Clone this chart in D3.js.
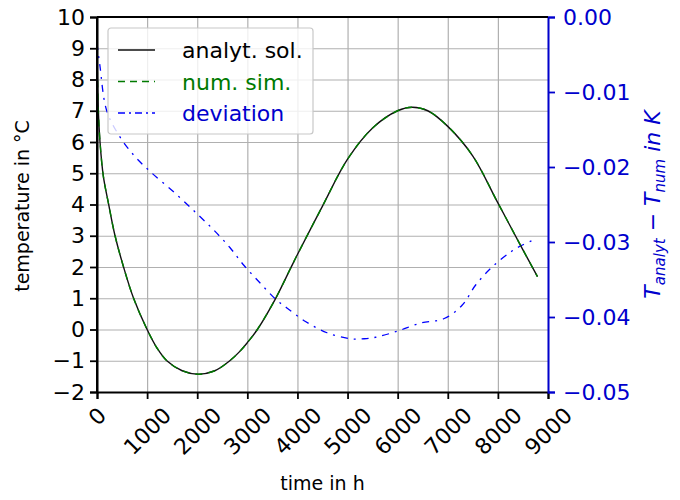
<!DOCTYPE html>
<html>
<head>
<meta charset="utf-8">
<script src="https://cdn.jsdelivr.net/npm/d3@7"></script>
<style>
  body { margin: 0; background: #fff; }
  text { font-family: "DejaVu Sans", sans-serif; }
</style>
</head>
<body>
<div id="chart"></div>
<script>
// temperature curves
const timeH = [0, 27, 60, 127, 227, 360, 530, 730, 1000, 1200, 1393, 1700, 2020, 2350, 2650, 2850, 3000, 3200, 3550, 3860, 4000, 4500, 5000, 5500, 6000, 6290, 6600, 7000, 7500, 8000, 8500, 8790];
const analytSol = [8.8, 7.0, 6.0, 4.9, 4.05, 3.0, 2.0, 1.0, 0.0, -0.6, -1.0, -1.32, -1.43, -1.32, -1.0, -0.7, -0.42, 0.0, 0.95, 1.95, 2.4, 3.95, 5.45, 6.45, 7.0, 7.11, 7.0, 6.5, 5.55, 4.05, 2.55, 1.69];
const numSim = [8.8, 7.0, 6.0, 4.9, 4.05, 3.0, 2.0, 1.0, 0.0, -0.6, -1.0, -1.32, -1.43, -1.32, -1.0, -0.7, -0.42, 0.0, 0.95, 1.95, 2.4, 3.95, 5.45, 6.45, 7.0, 7.11, 7.0, 6.5, 5.55, 4.05, 2.55, 1.69];

// deviation T_analyt - T_num (right axis)
const devTime = [0, 60, 190, 430, 730, 1060, 1560, 1990, 2330, 2660, 2930, 3260, 3560, 3790, 4160, 4590, 5060, 5330, 5560, 5990, 6460, 6930, 7290, 7560, 7890, 8260, 8490, 8690];
const deviation = [-0.0035, -0.0066, -0.0124, -0.0157, -0.0184, -0.0206, -0.0235, -0.0262, -0.0284, -0.0308, -0.0331, -0.0355, -0.0376, -0.0388, -0.0406, -0.0421, -0.0429, -0.0429, -0.0427, -0.0419, -0.0408, -0.0402, -0.0384, -0.0357, -0.0333, -0.0313, -0.0304, -0.0298];

// tick values
const xTicks = [0, 1000, 2000, 3000, 4000, 5000, 6000, 7000, 8000, 9000];
const yTicks = [-2, -1, 0, 1, 2, 3, 4, 5, 6, 7, 8, 9, 10];
const yRightTicks = [-0.05, -0.04, -0.03, -0.02, -0.01, 0];

const W = 680, H = 500;
const margin = {top: 17, right: 132, bottom: 108, left: 97},
    width = W - margin.left - margin.right,
    height = H - margin.top - margin.bottom;

const blue = "#0000cd";

const svg = d3.select("#chart")
  .append("svg")
    .attr("width", W)
    .attr("height", H)
  .append("g")
    .attr("transform", "translate(" + margin.left + "," + margin.top + ")");

const x = d3.scaleLinear().domain([0, 9000]).range([0, width]);
const y = d3.scaleLinear().domain([-2, 10]).range([height, 0]);
const yR = d3.scaleLinear().domain([-0.05, 0]).range([height, 0]);

// grid
svg.append("g")
  .attr("transform", "translate(0," + height + ")")
  .call(d3.axisBottom(x).tickValues(xTicks).tickSize(-height).tickFormat(""))
  .call(g => g.select(".domain").remove())
  .selectAll("line").attr("stroke", "#b0b0b0").attr("stroke-width", 1.2);
svg.append("g")
  .call(d3.axisLeft(y).tickValues(yTicks).tickSize(-width).tickFormat(""))
  .call(g => g.select(".domain").remove())
  .selectAll("line").attr("stroke", "#b0b0b0").attr("stroke-width", 1.2);

// lines
const tLine = d3.line().x((d, i) => x(timeH[i])).y(d => y(d)).curve(d3.curveCatmullRom);
const dLine = d3.line().x((d, i) => x(devTime[i])).y(d => yR(d)).curve(d3.curveCatmullRom);

svg.append("path").datum(deviation)
  .attr("d", dLine).attr("fill", "none")
  .attr("stroke", "#0000ff").attr("stroke-width", 1.3)
  .attr("stroke-dasharray", "7,6,2,6");

svg.append("path").datum(analytSol)
  .attr("d", tLine).attr("fill", "none")
  .attr("stroke", "#111").attr("stroke-width", 1.4);

svg.append("path").datum(numSim)
  .attr("d", tLine).attr("fill", "none")
  .attr("stroke", "#007a00").attr("stroke-width", 1.4)
  .attr("stroke-dasharray", "7,6");

// axes
const xAxis = svg.append("g")
  .attr("transform", "translate(0," + height + ")")
  .call(d3.axisBottom(x).tickValues(xTicks).tickSize(7).tickFormat(d3.format("d")));
xAxis.selectAll("text")
  .attr("font-size", 22)
  .attr("text-anchor", "middle")
  .attr("dominant-baseline", "central")
  .attr("dy", null)
  .attr("y", null)
  .each(function() {
    const w = this.getComputedTextLength();
    const c = 12 + (w + 21) * 0.7071 / 2;
    d3.select(this).attr("transform", "translate(0," + c + ") rotate(-45)");
  });

const yAxis = svg.append("g")
  .call(d3.axisLeft(y).tickValues(yTicks).tickSize(7).tickPadding(5).tickFormat(d3.format("d")));
yAxis.selectAll("text").attr("font-size", 22);

const yRAxis = svg.append("g")
  .attr("transform", "translate(" + width + ",0)")
  .call(d3.axisRight(yR).tickValues(yRightTicks).tickSize(7).tickPadding(8).tickFormat(d3.format(".2f")));
yRAxis.selectAll("text").attr("font-size", 22).attr("fill", blue);
yRAxis.selectAll("line").attr("stroke", blue);
yRAxis.select(".domain").attr("stroke", blue);

[xAxis, yAxis, yRAxis].forEach(a => {
  a.select(".domain").attr("stroke-width", 2);
  a.selectAll(".tick line").attr("stroke-width", 1.8);
});

// top and left spines
svg.append("line")
  .attr("x1", 0).attr("x2", width).attr("y1", 0).attr("y2", 0)
  .attr("stroke", "#000").attr("stroke-width", 2);
svg.append("line")
  .attr("x1", 0).attr("x2", 0).attr("y1", 0).attr("y2", height)
  .attr("stroke", "#000").attr("stroke-width", 2);

// axis labels
svg.append("text")
  .attr("x", width / 2).attr("y", 490 - margin.top)
  .attr("text-anchor", "middle").attr("font-size", 19)
  .text("time in h");

svg.append("text")
  .attr("transform", "translate(" + (29 - margin.left) + "," + (height / 2 + 1.5) + ") rotate(-90)")
  .attr("text-anchor", "middle").attr("font-size", 19)
  .text("temperature in °C");

const rl = svg.append("text")
  .attr("transform", "translate(" + (660 - margin.left) + "," + (height / 2) + ") rotate(-90)")
  .attr("text-anchor", "middle").attr("font-size", 22)
  .attr("fill", blue).attr("font-style", "italic");
rl.append("tspan").text("T");
rl.append("tspan").attr("dy", 5).attr("font-size", 15).text("analyt");
rl.append("tspan").attr("dy", -5).attr("font-style", "normal").text(" − ");
rl.append("tspan").text("T");
rl.append("tspan").attr("dy", 5).attr("font-size", 15).text("num");
rl.append("tspan").attr("dy", -5).text(" in K");

// legend
const legendItems = [
  {label: "analyt. sol.", color: "#111", text: "#000", dash: null},
  {label: "num. sim.", color: "#007a00", text: "#007a00", dash: "7,5"},
  {label: "deviation", color: "#0000ff", text: blue, dash: "7,4,2,4"}
];
const lg = svg.append("g").attr("transform", "translate(" + (108 - margin.left) + "," + (28 - margin.top) + ")");
lg.append("rect")
  .attr("width", 205).attr("height", 106).attr("rx", 3)
  .attr("fill", "#fff").attr("fill-opacity", 0.8)
  .attr("stroke", "#c8c8c8").attr("stroke-width", 1.2);
legendItems.forEach((d, i) => {
  const cy = 22 + i * 31.5;
  lg.append("line")
    .attr("x1", 10).attr("x2", 47).attr("y1", cy).attr("y2", cy)
    .attr("stroke", d.color).attr("stroke-width", 1.4)
    .attr("stroke-dasharray", d.dash);
  lg.append("text")
    .attr("x", 74).attr("y", cy + 8)
    .attr("font-size", 22).attr("fill", d.text)
    .text(d.label);
});
</script>
</body>
</html>
